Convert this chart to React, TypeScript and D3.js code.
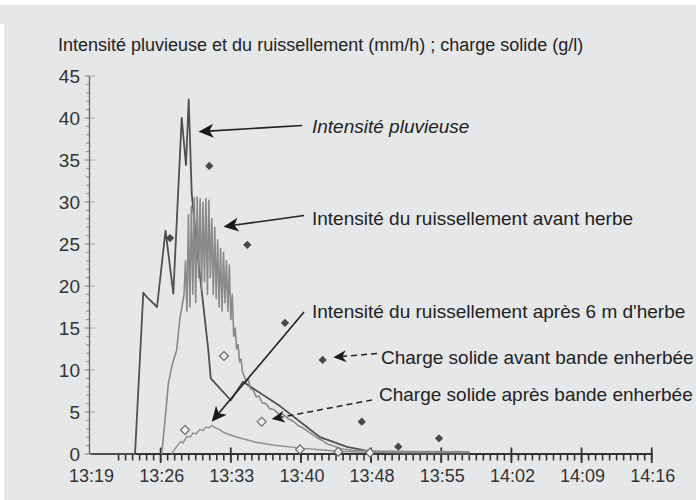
import React, { useEffect, useRef } from 'react';
import * as d3 from 'd3';

const W = 696;
const H = 500;

// time axis: minutes after 13:00, major step 7.2 min (Excel 0.005 day)
const tickLabels = ['13:19', '13:26', '13:33', '13:40', '13:48', '13:55', '14:02', '14:09', '14:16'];
const yTicks = [0, 5, 10, 15, 20, 25, 30, 35, 40, 45];

// [minutes after 13:00, mm/h]
const rain: [number, number][] = [
  [19.2, 0], [23.77, 0], [24.62, 19.2], [24.97, 18.7], [26.03, 17.5], [26.9, 26.6],
  [27.7, 19.1], [28.56, 40], [29.0, 34.4], [29.28, 42.2], [29.59, 31], [30.1, 24.7],
  [31.29, 12.4], [31.54, 9.0], [33.6, 6.4], [34.85, 8.6], [38.65, 5.7], [42.76, 2.0],
  [45.53, 0.85], [47.89, 0.3], [50.97, 0.05], [58.15, 0],
];

const runoffBefore: [number, number][] = [
  [26.51, 0], [26.85, 4], [27.19, 8.4], [27.56, 10.5], [28.05, 12.4], [28.23, 14.5],
  [28.39, 16.3], [28.59, 17.5], [28.8, 19], [28.95, 23], [29.1, 17], [29.25, 28.5],
  [29.4, 17.5], [29.55, 29.5], [29.7, 19], [29.85, 30.5], [30.0, 18], [30.15, 30.6],
  [30.3, 21], [30.45, 30.4], [30.6, 19.5], [30.75, 30], [30.9, 20.5], [31.05, 30.4],
  [31.2, 19], [31.35, 30.2], [31.5, 21], [31.65, 28], [31.8, 19], [31.95, 27],
  [32.1, 18.5], [32.25, 25.5], [32.4, 17.5], [32.55, 24.5], [32.7, 17], [32.85, 24],
  [33.0, 18], [33.15, 23], [33.3, 17], [33.45, 22.5], [33.6, 16], [33.75, 19],
  [33.9, 14], [34.05, 15], [34.2, 12.5], [34.35, 13], [34.5, 11], [34.65, 11.3],
  [34.8, 9.8], [35.0, 9.2], [35.2, 8.6], [35.4, 8.9], [35.6, 7.8], [35.9, 7.6],
  [36.2, 6.8], [36.5, 6.9], [36.8, 6.1], [37.2, 6.0], [37.6, 5.4], [38.0, 5.3],
  [38.5, 4.8], [39.0, 4.7], [39.5, 4.2], [40.0, 3.9], [40.5, 3.4], [41.0, 3.1],
  [41.5, 2.7], [42.0, 2.3], [42.5, 1.9], [43.0, 1.6], [43.5, 1.2], [44.0, 1.0],
  [45.0, 0.6], [46.0, 0.45], [48.0, 0.35], [52.0, 0.3], [58.0, 0.25],
];

const runoffAfter: [number, number][] = [
  [27.53, 0], [28.05, 0.9], [28.49, 1.5], [28.7, 1.3], [29.07, 2.1], [29.41, 2.0],
  [29.72, 2.5], [30.03, 2.4], [30.44, 2.9], [30.75, 2.8], [31.05, 3.2], [31.36, 3.1],
  [31.64, 3.4], [31.88, 3.2], [32.29, 3.0], [33.0, 2.5], [33.72, 2.2], [34.54, 1.9],
  [36.18, 1.4], [37.93, 1.07], [40.7, 0.7], [42.75, 0.5], [44.81, 0.3], [47.89, 0.2],
  [58.15, 0.2],
];

// [minutes after 13:00, g/l]
const solidBefore: [number, number][] = [
  [27.36, 25.7], [31.39, 34.3], [35.29, 24.9], [39.16, 15.6], [43.03, 11.2],
  [47.04, 3.85], [50.79, 0.87], [54.97, 1.87],
];
const solidAfter: [number, number][] = [
  [28.9, 2.86], [32.9, 11.67], [36.77, 3.85], [40.7, 0.55], [44.63, 0.27], [47.89, 0.15],
];

const FONT = '"Liberation Sans", Arial, sans-serif';

const App: React.FC = () => {
  const svgRef = useRef<SVGSVGElement>(null);

  useEffect(() => {
    if (!svgRef.current) return;
    const svg = d3.select(svgRef.current);
    svg.selectAll('*').remove();

    // background
    svg.append('rect').attr('width', W).attr('height', H).attr('fill', '#ffffff');
    svg.append('rect').attr('x', 0).attr('y', 5).attr('width', W).attr('height', H - 5).attr('fill', '#e6e7e9');
    svg.append('rect').attr('x', 0).attr('y', 24).attr('width', 4).attr('height', H - 24).attr('fill', '#ffffff');

    const x = d3.scaleLinear().domain([19.2, 76.8]).range([90.5, 651.7]);
    const y = d3.scaleLinear().domain([0, 45]).range([454, 76]);

    // y axis
    const yAxis = svg.append('g');
    yAxis.selectAll('.minor')
      .data(d3.range(0, 46))
      .enter()
      .append('line')
      .attr('x1', 86).attr('x2', 89.5)
      .attr('y1', d => y(d)).attr('y2', d => y(d))
      .attr('stroke', '#8a8a8a').attr('stroke-width', 1);
    yAxis.selectAll('.major')
      .data(yTicks)
      .enter()
      .append('line')
      .attr('x1', 84).attr('x2', 95)
      .attr('y1', d => y(d)).attr('y2', d => y(d))
      .attr('stroke', '#a8a8a8').attr('stroke-width', 1);
    yAxis.append('line')
      .attr('x1', 89.5).attr('x2', 89.5)
      .attr('y1', y(45)).attr('y2', y(0))
      .attr('stroke', '#6a6a6a').attr('stroke-width', 1.4);
    yAxis.selectAll('text')
      .data(yTicks)
      .enter()
      .append('text')
      .attr('x', 80).attr('y', d => y(d)).attr('dy', '0.36em')
      .attr('text-anchor', 'end')
      .attr('font-family', FONT).attr('font-size', 19).attr('fill', '#333')
      .text(d => d);

    // x axis
    const xAxis = svg.append('g');
    const minors = d3.range(0, 81).map(i => 19.2 + i * 0.72).filter(v => x(v) > 116);
    xAxis.selectAll('.minor')
      .data(minors)
      .enter()
      .append('line')
      .attr('x1', d => x(d)).attr('x2', d => x(d))
      .attr('y1', 454).attr('y2', 460.5)
      .attr('stroke', '#333').attr('stroke-width', 1.6);
    const majors = tickLabels.map((_, i) => 19.2 + i * 7.2);
    xAxis.selectAll('.major')
      .data(majors.filter(v => x(v) > 116))
      .enter()
      .append('line')
      .attr('x1', d => x(d)).attr('x2', d => x(d))
      .attr('y1', 447.5).attr('y2', 463)
      .attr('stroke', '#333').attr('stroke-width', 1.8);
    xAxis.append('line')
      .attr('x1', 90).attr('x2', 117)
      .attr('y1', 453.5).attr('y2', 453.5)
      .attr('stroke', '#666').attr('stroke-width', 1);
    xAxis.append('line')
      .attr('x1', 117).attr('x2', x(76.8) + 1)
      .attr('y1', 454).attr('y2', 454)
      .attr('stroke', '#333').attr('stroke-width', 2.2);
    xAxis.selectAll('text')
      .data(tickLabels)
      .enter()
      .append('text')
      .attr('x', (_, i) => x(majors[i]) + 1).attr('y', 482)
      .attr('text-anchor', 'middle')
      .attr('font-family', FONT).attr('font-size', 18).attr('fill', '#333')
      .text(d => d);

    // data lines
    const line = d3.line<[number, number]>()
      .x(d => x(d[0]))
      .y(d => y(d[1]));

    svg.append('path').datum(rain)
      .attr('fill', 'none').attr('stroke', '#505050').attr('stroke-width', 1.8)
      .attr('stroke-linejoin', 'round')
      .attr('d', line);
    svg.append('path').datum(runoffAfter)
      .attr('fill', 'none').attr('stroke', '#8f8f8f').attr('stroke-width', 1.4)
      .attr('d', line);
    svg.append('path').datum(runoffBefore)
      .attr('fill', 'none').attr('stroke', '#8a8a8a').attr('stroke-width', 1.6)
      .attr('stroke-linejoin', 'round')
      .attr('d', line);

    // solid charge markers
    const diamond = d3.symbol().type(d3.symbolDiamond2);
    svg.selectAll('.solidBefore')
      .data(solidBefore)
      .enter()
      .append('path')
      .attr('d', diamond.size(44)())
      .attr('transform', d => `translate(${x(d[0])},${y(d[1])})`)
      .attr('fill', '#4a4a4a');
    svg.selectAll('.solidAfter')
      .data(solidAfter)
      .enter()
      .append('path')
      .attr('d', diamond.size(50)())
      .attr('transform', d => `translate(${x(d[0])},${y(d[1])})`)
      .attr('fill', '#f2f2f2').attr('stroke', '#6a6a6a').attr('stroke-width', 1.2);

    // annotations
    const arrow = (x1: number, y1: number, x2: number, y2: number, dashed: boolean) => {
      const ang = Math.atan2(y2 - y1, x2 - x1) * 180 / Math.PI;
      const len = dashed ? 13 : 15;
      const hw = dashed ? 6 : 7;
      const notch = dashed ? 9 : 11;
      svg.append('line')
        .attr('x1', x1).attr('y1', y1)
        .attr('x2', x2 - (notch - 1) * Math.cos(ang * Math.PI / 180))
        .attr('y2', y2 - (notch - 1) * Math.sin(ang * Math.PI / 180))
        .attr('stroke', '#222').attr('stroke-width', dashed ? 1.5 : 1.6)
        .attr('stroke-dasharray', dashed ? '6,4' : null);
      svg.append('path')
        .attr('d', `M0,0L${-len},${-hw}L${-notch},0L${-len},${hw}Z`)
        .attr('transform', `translate(${x2},${y2}) rotate(${ang})`)
        .attr('fill', '#1a1a1a');
    };
    arrow(302, 125.5, 198.5, 131.7, false);
    arrow(304, 215.5, 223.5, 226.7, false);
    arrow(304, 312, 211.7, 421.7, false);
    arrow(377, 353.5, 333.3, 357.3, true);
    arrow(372, 400, 271.7, 419, true);

    const label = (tx: number, ty: number, s: string, italic = false) => {
      svg.append('text')
        .attr('x', tx).attr('y', ty)
        .attr('font-family', FONT).attr('font-size', 19).attr('fill', '#222')
        .attr('font-style', italic ? 'italic' : null)
        .text(s);
    };
    label(312, 133, 'Intensité pluvieuse', true);
    label(312, 225, 'Intensité du ruissellement avant herbe');
    label(312, 317.5, "Intensité du ruissellement après 6 m d'herbe");
    label(381, 363.5, 'Charge solide avant bande enherbée');
    label(379, 401, 'Charge solide après bande enherbée');

    svg.append('text')
      .attr('x', 58).attr('y', 51)
      .attr('font-family', FONT).attr('font-size', 18).attr('fill', '#222')
      .text('Intensité pluvieuse et du ruissellement (mm/h) ; charge solide (g/l)');
  }, []);

  return (
    <div style={{ position: 'absolute', left: 0, top: 0 }}>
      <svg ref={svgRef} width={W} height={H} style={{ display: 'block' }} />
    </div>
  );
};

export default App;
